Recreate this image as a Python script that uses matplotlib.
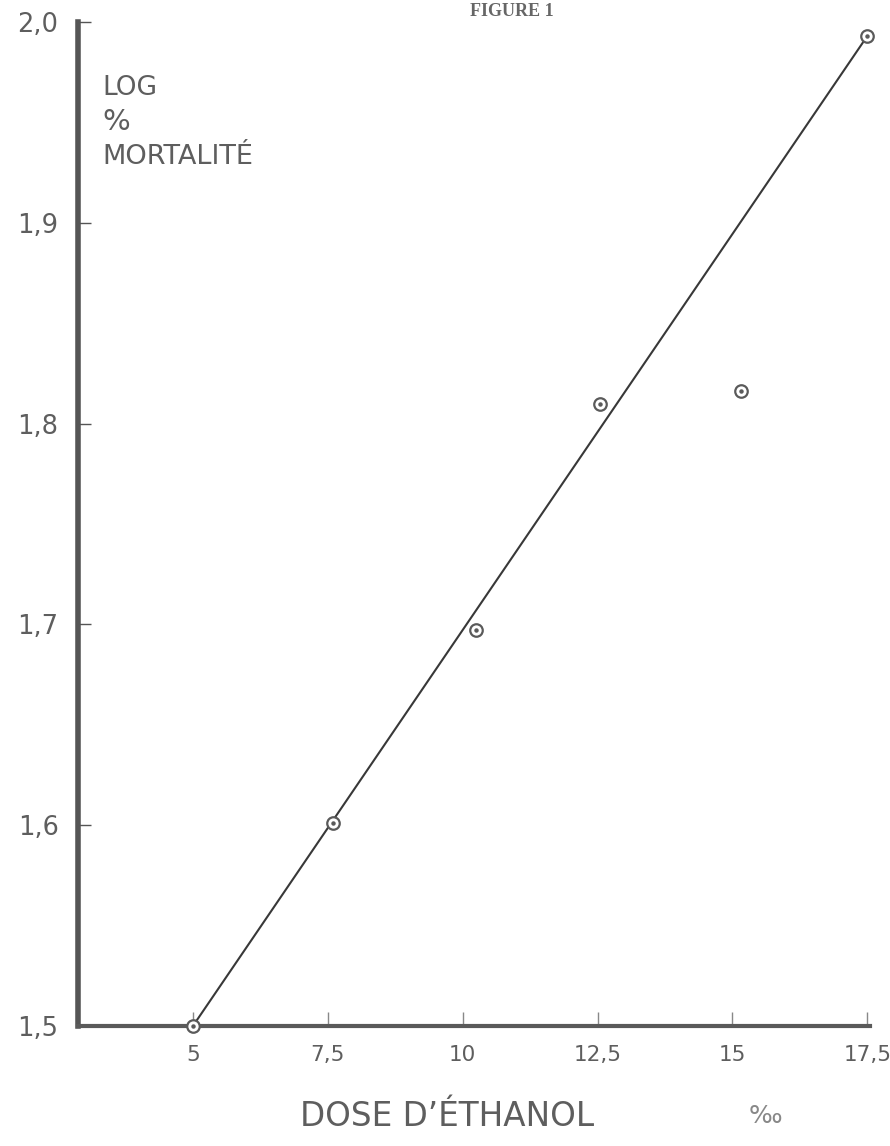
import matplotlib
matplotlib.use("Agg")
import matplotlib.pyplot as plt

# Data
dose = [5.0, 7.6, 10.25, 12.55, 15.15, 17.5]
log_mort = [1.500, 1.601, 1.697, 1.810, 1.816, 1.993]
fit_x = [5.0, 17.5]
fit_y = [1.500, 1.993]
xticks = [5, 7.5, 10, 12.5, 15, 17.5]
xtick_labels = ["5", "7,5", "10", "12,5", "15", "17,5"]
yticks = [1.5, 1.6, 1.7, 1.8, 1.9, 2.0]
ytick_labels = ["1,5", "1,6", "1,7", "1,8", "1,9", "2,0"]

plt.rcParams['font.family'] = ['DejaVu Sans']
fig = plt.figure(figsize=(8.9, 11.46), dpi=100)
ax = fig.add_axes([78/890, 1 - 1026/1146, (870-78)/890, (1026-22)/1146])
ax.set_xlim(2.87, 17.55)
ax.set_ylim(1.5, 2.0)

txt = '#5e5e5e'
ax.plot(fit_x, fit_y, color='#383838', lw=1.5, zorder=2)
ax.plot(dose, log_mort, linestyle='none', marker='o', ms=9, mfc='white',
        mec='#5a5a5a', mew=1.6, zorder=3, clip_on=False)
ax.plot(dose, log_mort, linestyle='none', marker='o', ms=2.2, mfc='#5a5a5a',
        mec='#5a5a5a', zorder=4, clip_on=False)

for s in ['top', 'right']:
    ax.spines[s].set_visible(False)
ax.spines['left'].set_linewidth(4)
ax.spines['left'].set_color('#555555')
ax.spines['bottom'].set_linewidth(3)
ax.spines['bottom'].set_color('#5a5a5a')

ax.set_xticks(xticks)
ax.set_xticklabels(xtick_labels)
ax.set_yticks(yticks)
ax.set_yticklabels(ytick_labels)
ax.tick_params(axis='x', direction='in', length=10, width=1, color='#888888',
               labelsize=15.5, labelcolor=txt, pad=14)
ax.tick_params(axis='y', direction='in', length=9, width=1, color='#555555',
               labelsize=18.5, labelcolor=txt, pad=14)

ax.text(102/890, 1 - 88/1146, "LOG", transform=fig.transFigure, fontsize=19,
        color=txt, va='center', ha='left')
ax.text(102/890, 1 - 122/1146, "%", transform=fig.transFigure, fontsize=21,
        color=txt, va='center', ha='left')
ax.text(102/890, 1 - 157/1146, "MORTALITÉ", transform=fig.transFigure, fontsize=19.5,
        color=txt, va='center', ha='left')

fig.text(300/890, 1 - 1116/1146, "DOSE D\u2019ÉTHANOL", fontsize=23.5, color=txt,
         va='center', ha='left')
fig.text(765/890, 1 - 1116/1146, "\u2030", fontsize=18, color='#888888',
         va='center', ha='center')
fig.text(512/890, 1 - 12/1146, "FIGURE 1", fontsize=13, color='#666666',
         family='Liberation Serif', weight='bold', va='center', ha='center')

fig.savefig("out.png", dpi=100, facecolor='white')
